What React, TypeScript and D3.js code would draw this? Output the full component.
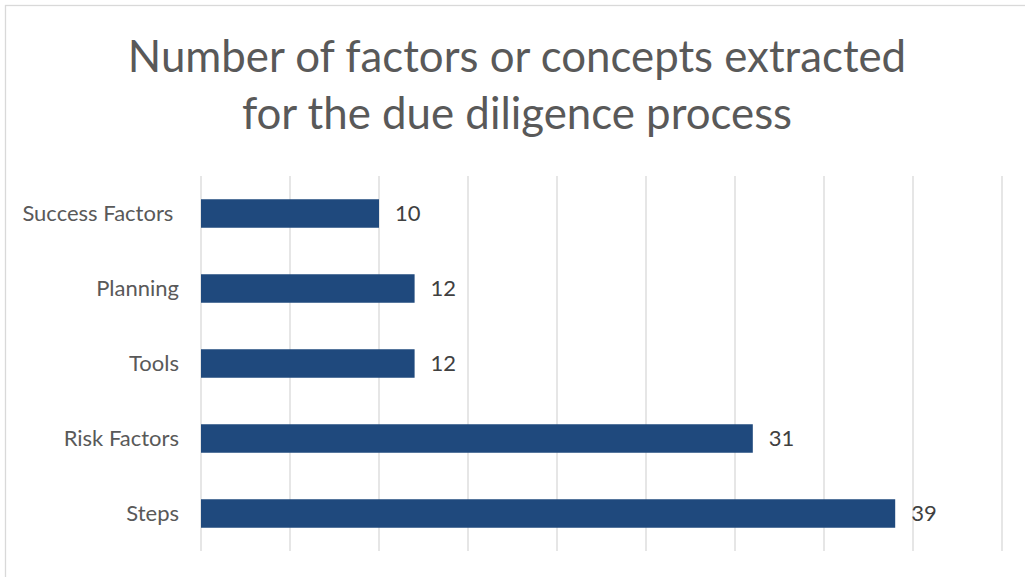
import React, { useEffect, useRef } from 'react';
import * as d3 from 'd3';

const categories = ['Success Factors ', 'Planning', 'Tools', 'Risk Factors', 'Steps'];
const values = [10, 12, 12, 31, 39];
const xTicks = [0, 5, 10, 15, 20, 25, 30, 35, 40, 45];
const titleLines = ['Number of factors or concepts extracted', 'for the due diligence process'];

export default function App() {
  const svgRef = useRef<SVGSVGElement>(null);

  useEffect(() => {
    if (!svgRef.current) return;
    const svg = d3.select(svgRef.current);
    svg.selectAll('*').remove();

    const width = 1025;
    const height = 577;
    const font = 'Lato, "Noto Sans", sans-serif';

    // chart frame (right/bottom edges fall outside the picture)
    svg.append('rect')
      .attr('x', 5.5)
      .attr('y', 5.5)
      .attr('width', width + 10)
      .attr('height', height + 10)
      .attr('fill', '#fff')
      .attr('stroke', '#d9d9d9')
      .attr('stroke-width', 1.3);

    // Title
    svg.append('g')
      .selectAll('text')
      .data(titleLines)
      .enter()
      .append('text')
      .attr('x', 517)
      .attr('y', (_, i) => 71.5 + i * 57.5)
      .attr('text-anchor', 'middle')
      .attr('font-family', font)
      .attr('font-size', 43.8)
      .attr('fill', '#595959')
      .text(d => d);

    const x = d3.scaleLinear().domain([0, 45]).range([201, 1002]);
    const y = d3.scaleBand()
      .domain(categories)
      .range([176, 551])
      .paddingInner(0.62)
      .paddingOuter(0.31);

    // gridlines
    svg.append('g')
      .selectAll('line')
      .data(xTicks)
      .enter()
      .append('line')
      .attr('x1', d => x(d))
      .attr('x2', d => x(d))
      .attr('y1', 176)
      .attr('y2', 551)
      .attr('stroke', '#d9d9d9')
      .attr('stroke-width', 1.3);

    // bars
    svg.append('g')
      .selectAll('rect')
      .data(categories)
      .enter()
      .append('rect')
      .attr('x', x(0))
      .attr('y', d => y(d)!)
      .attr('width', (_, i) => x(values[i]) - x(0))
      .attr('height', y.bandwidth())
      .attr('fill', '#1f497d');

    // category labels
    svg.append('g')
      .selectAll('text')
      .data(categories)
      .enter()
      .append('text')
      .attr('x', 179)
      .attr('y', d => y(d)! + y.bandwidth() / 2)
      .attr('dy', '0.36em')
      .attr('text-anchor', 'end')
      .attr('font-family', font)
      .attr('font-size', 22)
      .attr('fill', '#595959')
      .style('white-space', 'pre')
      .text(d => d);

    // value labels
    svg.append('g')
      .selectAll('text')
      .data(categories)
      .enter()
      .append('text')
      .attr('x', (_, i) => x(values[i]) + 16)
      .attr('y', d => y(d)! + y.bandwidth() / 2)
      .attr('dy', '0.36em')
      .attr('font-family', font)
      .attr('font-size', 22)
      .attr('fill', '#404040')
      .text((_, i) => values[i]);
  }, []);

  return (
    <svg
      ref={svgRef}
      width={1025}
      height={577}
      style={{ position: 'absolute', left: 0, top: 0, background: '#fff' }}
    />
  );
}
